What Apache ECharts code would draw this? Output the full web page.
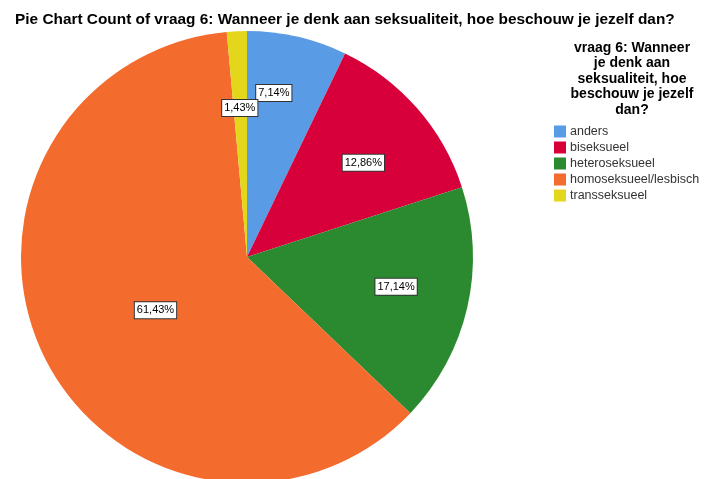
<!DOCTYPE html>
<html>
<head>
<meta charset="utf-8">
<script src="https://cdn.jsdelivr.net/npm/echarts@6/dist/echarts.min.js"></script>
<style>
html,body{margin:0;padding:0;background:#fff;}
#main{width:717px;height:479px;}
</style>
</head>
<body>
<div id="main"></div>
<script>
// categorieen en aantallen (n=70)
var categories=['anders','biseksueel','heteroseksueel','homoseksueel/lesbisch','transseksueel'];
var counts=[5,9,12,43,1];
var colors=['#5A9BE6','#D8003A','#2B8A2F','#F36B2D','#E4D61A'];
// kleine verschuiving van de labels zoals in SPSS
var labelShift=[[1,-51],[29,-18],[36,4],[13,3],[-2,-33]];

var total=counts.reduce(function(a,b){return a+b;},0);

var dom=document.getElementById('main');
var myChart=echarts.init(dom,null,{renderer:'canvas'});
var option={
	animation:false,
	backgroundColor:'#fff',
	title:[
		{
			text:'Pie Chart Count of vraag 6: Wanneer je denk aan seksualiteit, hoe beschouw je jezelf dan?',
			left:10,top:7,
			textStyle:{fontFamily:'Liberation Sans, Arial',fontSize:15.4,fontWeight:'bold',color:'#000'}
		},
		{
			text:'vraag 6: Wanneer\nje denk aan\nseksualiteit, hoe\nbeschouw je jezelf\ndan?',
			left:627,top:35,textAlign:'center',
			textStyle:{fontFamily:'Liberation Sans, Arial',fontSize:14,fontWeight:'bold',color:'#000',lineHeight:15.5,align:'center'}
		}
	],
	legend:{
		orient:'vertical',
		left:549,top:120,
		icon:'rect',
		itemWidth:12,itemHeight:12,itemGap:3,
		textStyle:{fontFamily:'Liberation Sans, Arial',fontSize:12.5,color:'#333',padding:[0,0,0,-1]},
		data:categories
	},
	series:[{
		type:'pie',
		center:[247,257],
		radius:226,
		startAngle:90,
		clockwise:true,
		avoidLabelOverlap:false,
		itemStyle:{borderWidth:0},
		emphasis:{disabled:true},
		label:{
			show:true,
			position:'inside',
			formatter:function(p){return (p.value/total*100).toFixed(2).replace('.',',')+'%';},
			fontFamily:'Liberation Sans, Arial',
			fontSize:11,
			color:'#000',
			backgroundColor:'#fff',
			borderColor:'#333',
			borderWidth:1,
			padding:[3,2,2,2]
		},
		labelLayout:function(params){
			var s=labelShift[params.dataIndex];
			return {dx:s[0],dy:s[1]};
		},
		data:categories.map(function(c,i){
			return {name:c,value:counts[i],itemStyle:{color:colors[i]}};
		})
	}]
};
myChart.setOption(option,true);
</script>
</body>
</html>
